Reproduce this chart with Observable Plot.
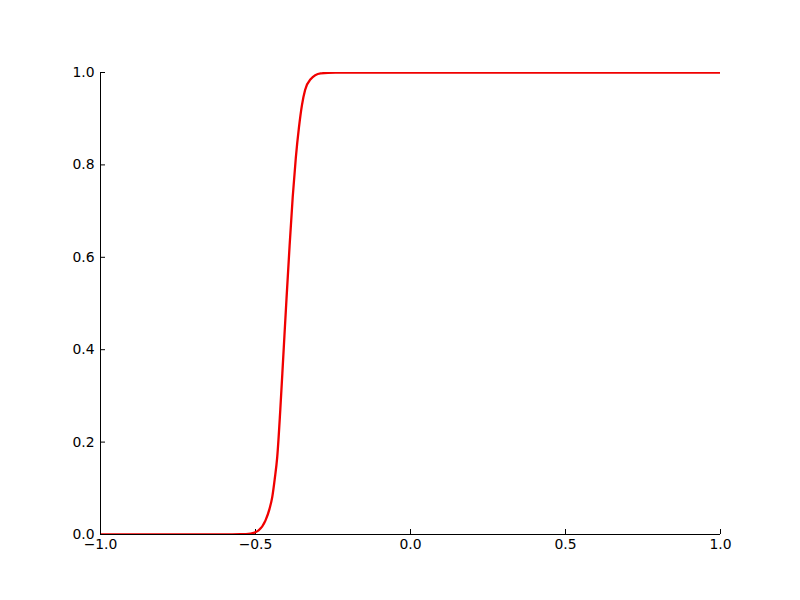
<!DOCTYPE html>
<html>
<head>
<meta charset="utf-8">
<script src="https://cdn.jsdelivr.net/npm/d3@7"></script>
<script src="https://cdn.jsdelivr.net/npm/@observablehq/plot@0.6"></script>
<style>
  html, body { margin: 0; padding: 0; background: #fff; }
  #chart { width: 800px; height: 600px; }
  svg { font-family: "DejaVu Sans", sans-serif; }
</style>
</head>
<body>
<div id="chart"></div>
<script>
const xs = [-1.0, -0.8, -0.6, -0.55, -0.516, -0.490, -0.468, -0.455, -0.446, -0.438, -0.430, -0.420, -0.410, -0.400, -0.390, -0.380, -0.370, -0.360, -0.350, -0.340, -0.323, -0.290, -0.242, -0.2, 0.0, 0.5, 1.0];
const ys = [0.0, 0.0, 0.0, 0.0005, 0.002, 0.009, 0.030, 0.055, 0.081, 0.120, 0.167, 0.270, 0.390, 0.510, 0.625, 0.730, 0.815, 0.880, 0.930, 0.962, 0.985, 0.998, 1.0, 1.0, 1.0, 1.0, 1.0];
const xTicks = [-1.0, -0.5, 0.0, 0.5, 1.0];
const yTicks = [0.0, 0.2, 0.4, 0.6, 0.8, 1.0];

const data = xs.map((x, i) => ({x, y: ys[i]}));
const fmt = d => d.toFixed(1).replace("-", "\u2212");

const chart = Plot.plot({
  width: 800,
  height: 600,
  marginLeft: 100,
  marginRight: 80,
  marginTop: 72,
  marginBottom: 66,
  style: {fontFamily: "DejaVu Sans, sans-serif", fontSize: "13.9px", color: "#000", background: "#fff"},
  x: {domain: [-1, 1]},
  y: {domain: [0, 1]},
  marks: [
    Plot.axisX(xTicks, {tickSize: -5, tickPadding: 10, tickFormat: fmt, fontSize: 13.9, fill: "#000", stroke: "#000", label: null}),
    Plot.axisY(yTicks, {tickSize: -5, tickPadding: 11, tickFormat: fmt, fontSize: 13.9, fill: "#000", stroke: "#000", label: null}),
    Plot.line(data, {x: "x", y: "y", stroke: "#f00000", strokeWidth: 2.3, curve: "monotone-x", clip: true}),
    Plot.ruleY([0], {stroke: "#000", strokeWidth: 1}),
    Plot.ruleX([-1], {stroke: "#000", strokeWidth: 1})
  ]
});
document.getElementById("chart").appendChild(chart);
</script>
</body>
</html>
